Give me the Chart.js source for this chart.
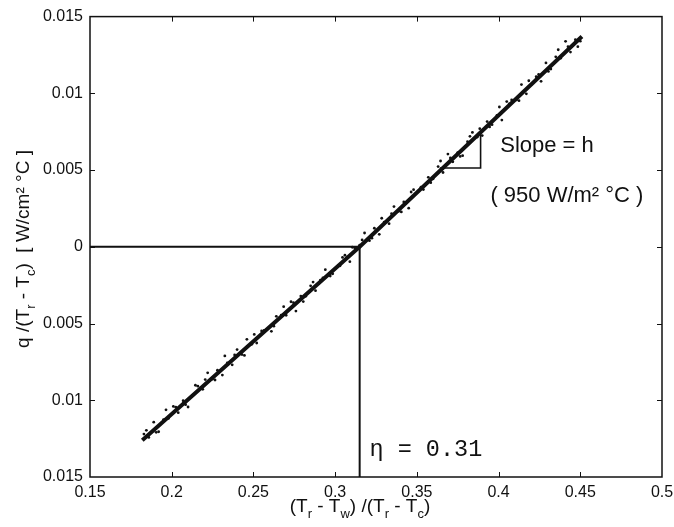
<!DOCTYPE html>
<html>
<head>
<meta charset="utf-8">
<script src="https://cdn.jsdelivr.net/npm/chart.js@4/dist/chart.umd.min.js"></script>
<style>
  html, body { margin: 0; padding: 0; background: #fff; }
  #wrap { width: 674px; height: 527px; position: relative; }
</style>
</head>
<body>
<div id="wrap"><canvas id="c"></canvas></div>
<script>
// ---- data ----
const xTicks = [0.15, 0.2, 0.25, 0.3, 0.35, 0.4, 0.45, 0.5];
const xTickLabels = ['0.15', '0.2', '0.25', '0.3', '0.35', '0.4', '0.45', '0.5'];
const yTicks = [-0.015, -0.01, -0.005, 0, 0.005, 0.01, 0.015];
const yTickLabels = ['0.015', '0.01', '0.005', '0', '0.005', '0.01', '0.015'];

const measX = [0.183,0.186,0.189,0.192,0.195,0.198,0.201,0.204,0.207,0.210,
  0.213,0.216,0.219,0.222,0.225,0.228,0.231,0.234,0.237,0.240,
  0.243,0.246,0.249,0.252,0.255,0.258,0.261,0.264,0.267,0.270,
  0.273,0.276,0.279,0.282,0.285,0.288,0.291,0.294,0.297,0.300,
  0.303,0.306,0.309,0.312,
  0.315,0.318,0.321,0.324,0.327,0.330,0.333,0.336,0.339,0.342,
  0.345,0.348,0.351,0.354,0.357,0.360,0.363,0.366,0.369,0.372,
  0.375,0.378,0.381,0.384,0.387,0.390,0.393,0.396,0.399,0.402,
  0.405,0.408,0.411,0.414,0.417,0.420,0.423,0.426,0.429,0.432,
  0.435,0.438,0.441,0.444,0.447,0.450];
const measY = [-0.01220,-0.01242,-0.01143,-0.01205,-0.01126,-0.01118,-0.01040,-0.01081,-0.01003,-0.01044,
  -0.00966,-0.00908,-0.00929,-0.00821,-0.00862,-0.00804,-0.00836,-0.00757,-0.00769,-0.00670,
  -0.00702,-0.00603,-0.00635,-0.00627,-0.00548,-0.00540,-0.00551,-0.00453,-0.00445,-0.00446,
  -0.00358,-0.00419,-0.00321,-0.00323,-0.00254,-0.00286,-0.00217,-0.00149,-0.00191,-0.00142,
  -0.00124,-0.00055,-0.00097,-0.00008,
  0.00010,0.00090,0.00040,0.00121,0.00081,0.00161,0.00151,0.00262,0.00232,0.00292,
  0.00252,0.00372,0.00363,0.00373,0.00453,0.00443,0.00523,0.00484,0.00604,0.00554,
  0.00614,0.00594,0.00685,0.00745,0.00715,0.00725,0.00816,0.00796,0.00856,0.00826,
  0.00946,0.00957,0.00957,0.01057,0.00997,0.01057,0.01108,0.01078,0.01198,0.01158,
  0.01238,0.01229,0.01339,0.01269,0.01349,0.01340];

const measX2 = [0.1845,0.1905,0.1965,0.2025,0.2085,0.2145,0.2205,0.2265,0.2325,0.2385,
  0.2445,0.2505,0.2565,0.2625,0.2685,0.2745,0.2805,0.2865,0.2925,0.2985,
  0.3045,0.3105,0.3165,0.3225,0.3285,0.3345,0.3405,0.3465,0.3525,0.3585,
  0.3645,0.3705,0.3765,0.3825,0.3885,0.3945,0.4005,0.4065,0.4125,0.4185,
  0.4245,0.4305,0.4365,0.4425,0.4485];
const measY2 = [-0.01196,-0.01209,-0.01062,-0.01045,-0.01029,-0.00902,-0.00865,-0.00868,-0.00711,-0.00705,
  -0.00708,-0.00571,-0.00544,-0.00517,-0.00390,-0.00364,-0.00357,-0.00230,-0.00203,-0.00176,
  -0.00069,-0.00003,0.00045,0.00056,0.00186,0.00216,0.00227,0.00357,0.00388,0.00418,
  0.00559,0.00579,0.00589,0.00720,0.00770,0.00781,0.00911,0.00931,0.00952,0.01082,
  0.01123,0.01143,0.01284,0.01304,0.01304];

const fitX = [0.182, 0.315, 0.451];
const fitY = [-0.0126, 0.0, 0.0137];

const etaX = [0.15, 0.315, 0.315];
const etaY = [0.0, 0.0, -0.015];

const triX = [0.364, 0.389, 0.389];
const triY = [0.00513, 0.00513, 0.00753];

const FONT = 'Arial, "Liberation Sans", sans-serif';
const INK = '#111';

function drawRich(ctx, parts, cx, cy, size) {
  const subSize = Math.round(size * 0.7);
  let total = 0;
  const widths = parts.map(p => {
    ctx.font = (p.sub ? subSize : size) + 'px ' + FONT;
    const w = ctx.measureText(p.t).width;
    total += w;
    return w;
  });
  let x = cx - total / 2;
  ctx.textBaseline = 'middle';
  ctx.textAlign = 'left';
  parts.forEach((p, i) => {
    ctx.font = (p.sub ? subSize : size) + 'px ' + FONT;
    ctx.fillText(p.t, x, p.sub ? cy + size * 0.38 : cy);
    x += widths[i];
  });
}

const decor = {
  id: 'decor',
  afterDraw(chart) {
    const ctx = chart.ctx;
    const a = chart.chartArea;
    const xs = chart.scales.x, ys = chart.scales.y;
    ctx.save();
    ctx.strokeStyle = INK;
    ctx.fillStyle = INK;
    // frame
    ctx.lineWidth = 1.5;
    ctx.strokeRect(a.left, a.top, a.right - a.left, a.bottom - a.top);
    // inward ticks
    ctx.lineWidth = 1;
    ctx.beginPath();
    xTicks.slice(1, -1).forEach(v => {
      const px = Math.round(xs.getPixelForValue(v)) + 0.5;
      ctx.moveTo(px, a.bottom); ctx.lineTo(px, a.bottom - 5);
      ctx.moveTo(px, a.top); ctx.lineTo(px, a.top + 5);
    });
    yTicks.slice(1, -1).forEach(v => {
      const py = Math.round(ys.getPixelForValue(v)) + 0.5;
      ctx.moveTo(a.left, py); ctx.lineTo(a.left + 5, py);
      ctx.moveTo(a.right, py); ctx.lineTo(a.right - 5, py);
    });
    ctx.stroke();

    // annotations
    ctx.font = '22px ' + FONT;
    ctx.textBaseline = 'middle';
    ctx.textAlign = 'left';
    ctx.fillText('Slope = h', xs.getPixelForValue(0.401), ys.getPixelForValue(0.0066));
    ctx.fillText('( 950 W/m\u00B2 \u00B0C )', xs.getPixelForValue(0.395), ys.getPixelForValue(0.0033));
    ctx.font = '23.5px "Liberation Mono", "DejaVu Sans Mono", monospace';
    ctx.fillText('\u03B7 = 0.31', xs.getPixelForValue(0.321), ys.getPixelForValue(-0.01325));

    // axis titles
    drawRich(ctx, [
      {t: '(T'}, {t: 'r', sub: true}, {t: ' - T'}, {t: 'w', sub: true},
      {t: ') /(T'}, {t: 'r', sub: true}, {t: ' - T'}, {t: 'c', sub: true}, {t: ')'}
    ], 360, 507, 19);

    ctx.save();
    ctx.translate(24, 249);
    ctx.rotate(-Math.PI / 2);
    drawRich(ctx, [
      {t: 'q /(T'}, {t: 'r', sub: true}, {t: ' - T'}, {t: 'c', sub: true},
      {t: ')  [ W/cm\u00B2 \u00B0C ]'}
    ], 0, 0, 19);
    ctx.restore();
    ctx.restore();
  }
};

const toPts = (xa, ya) => xa.map((x, i) => ({x: x, y: ya[i]}));

new Chart(document.getElementById('c'), {
  type: 'scatter',
  data: {
    datasets: [
      {
        label: 'measured',
        data: toPts(measX, measY),
        pointRadius: 1.4,
        pointBackgroundColor: INK,
        pointBorderWidth: 0,
        showLine: false
      },
      {
        label: 'measured2',
        data: toPts(measX2, measY2),
        pointRadius: 1.4,
        pointBackgroundColor: INK,
        pointBorderWidth: 0,
        showLine: false
      },
      {
        label: 'fit',
        data: toPts(fitX, fitY),
        showLine: true,
        borderColor: INK,
        borderWidth: 4,
        pointRadius: 0
      },
      {
        label: 'eta',
        data: toPts(etaX, etaY),
        showLine: true,
        borderColor: INK,
        borderWidth: 2,
        pointRadius: 0
      },
      {
        label: 'slope',
        data: toPts(triX, triY),
        showLine: true,
        borderColor: INK,
        borderWidth: 1.6,
        pointRadius: 0
      }
    ]
  },
  options: {
    responsive: true,
    maintainAspectRatio: false,
    animation: false,
    events: [],
    layout: { padding: { top: 14, right: 12, left: 0, bottom: 0 } },
    plugins: { legend: { display: false }, tooltip: { enabled: false } },
    scales: {
      x: {
        type: 'linear',
        min: 0.15, max: 0.5,
        afterBuildTicks: s => { s.ticks = xTicks.map(v => ({value: v})); },
        afterFit: s => { s.height = 50; s.paddingRight = 0; s.paddingLeft = 0; },
        grid: { display: false, drawTicks: false },
        border: { display: false },
        ticks: {
          padding: 6,
          color: INK,
          font: { family: FONT, size: 16 },
          maxRotation: 0,
          autoSkip: false,
          callback: (v, i) => xTickLabels[i]
        }
      },
      y: {
        type: 'linear',
        min: -0.015, max: 0.015,
        afterBuildTicks: s => { s.ticks = yTicks.map(v => ({value: v})); },
        afterFit: s => { s.width = 90; },
        grid: { display: false, drawTicks: false },
        border: { display: false },
        ticks: {
          padding: 7,
          color: INK,
          font: { family: FONT, size: 16 },
          autoSkip: false,
          callback: (v, i) => yTickLabels[i]
        }
      }
    }
  },
  plugins: [decor]
});
</script>
</body>
</html>
